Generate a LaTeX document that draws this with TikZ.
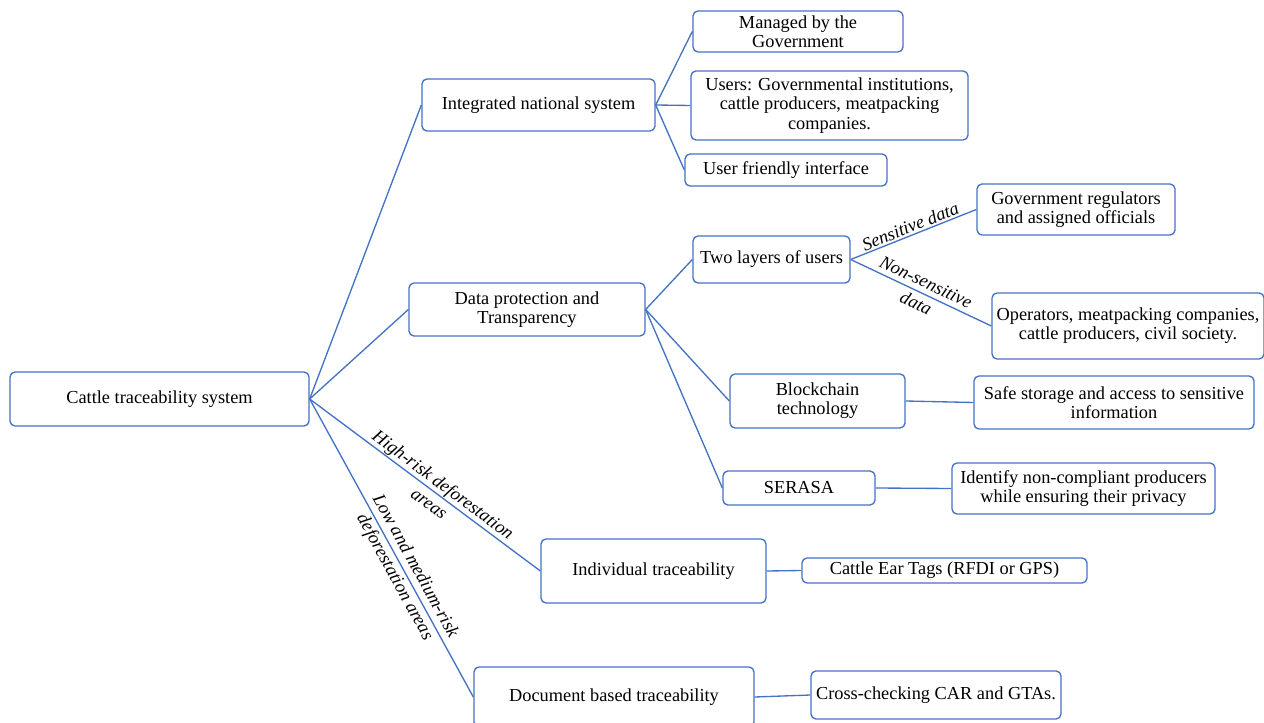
\documentclass[tikz,border=0pt]{standalone}
\usepackage{fontspec}
\setmainfont{Liberation Serif}
\usepackage{xcolor}

\begin{document}
\begin{tikzpicture}[x=0.6pt, y=-0.6pt,
    box/.style={draw=lineblue, line width=0.8pt, rounded corners=3pt, align=center, inner sep=1pt, font=\fontsize{11}{11.5}\selectfont},
    sz/.style 2 args={minimum width=#1*0.6pt, minimum height=#2*0.6pt},
    link/.style={draw=lineblue, line width=0.8pt},
    lbl/.style={font=\fontsize{11}{14}\selectfont\itshape, sloped, align=center, inner sep=1pt}]
    % Define colors
    \definecolor{lineblue}{RGB}{68,114,196}
    \useasboundingbox (0,0) rectangle (1264,723);

    % Root
    \node[box, sz={299}{54}] (root) at (159.5,399) {Cattle traceability system};

    % Integrated national system
    \node[box, sz={233}{52}] (natl) at (538.5,105) {Integrated national system};
    \node[box, sz={210}{41}] (managed) at (798,31.5) {Managed by the\\Government};
    \node[box, sz={277}{69}] (users) at (829.5,105.5) {Users: Governmental institutions,\\cattle producers, meatpacking\\companies.};
    \node[box, sz={202}{32}] (iface) at (786,170) {User friendly interface};

    % Data protection
    \node[box, sz={236}{53}] (dataprot) at (527,309.5) {Data protection and\\Transparency};
    \node[box, sz={157}{47}] (layers) at (771.5,259.5) {Two layers of users};
    \node[box, sz={198}{51}] (regul) at (1076,209.5) {Government regulators\\and assigned officials};
    \node[box, sz={272}{66}] (operators) at (1128,326) {Operators, meatpacking companies,\\cattle producers, civil society.};
    \node[box, sz={175}{54}] (chain) at (817.5,401) {Blockchain\\technology};
    \node[box, sz={280}{53}] (storage) at (1114,402.5) {Safe storage and access to sensitive\\information};
    \node[box, sz={152}{34}] (serasa) at (799,488) {SERASA};
    \node[box, sz={263}{51}] (identify) at (1083.5,488.5) {Identify non-compliant producers\\while ensuring their privacy};

    % Individual and document based
    \node[box, sz={225}{64}] (indiv) at (653.5,571) {Individual traceability};
    \node[box, sz={285}{25}] (eartags) at (944.5,570.5) {Cattle Ear Tags (RFDI or GPS)};
    \node[box, sz={280}{60}] (docbased) at (614,697) {Document based traceability};
    \node[box, sz={250}{48}] (crosscheck) at (936,695) {Cross-checking CAR and GTAs.};

    % Connectors
    \draw[link] (root.east) -- (natl.west);
    \draw[link] (root.east) -- (dataprot.west);
    \draw[link] (root.east) -- node[lbl, pos=0.55] {High-risk deforestation\\areas} (indiv.west);
    \draw[link] (root.east) -- node[lbl, pos=0.58] {Low and medium-risk\\deforestation areas} (docbased.west);

    \draw[link] (natl.east) -- (managed.west);
    \draw[link] (natl.east) -- (users.west);
    \draw[link] (natl.east) -- (iface.west);

    \draw[link] (dataprot.east) -- (layers.west);
    \draw[link] (dataprot.east) -- (chain.west);
    \draw[link] (dataprot.east) -- (serasa.west);
    \draw[link] (layers.east) -- node[lbl, above, pos=0.5] {Sensitive data} (regul.west);
    \draw[link] (layers.east) -- node[lbl, pos=0.5] {Non-sensitive\\data} (operators.west);

    \draw[link] (chain.east) -- (storage.west);
    \draw[link] (serasa.east) -- (identify.west);
    \draw[link] (indiv.east) -- (eartags.west);
    \draw[link] (docbased.east) -- (crosscheck.west);
\end{tikzpicture}
\end{document}
